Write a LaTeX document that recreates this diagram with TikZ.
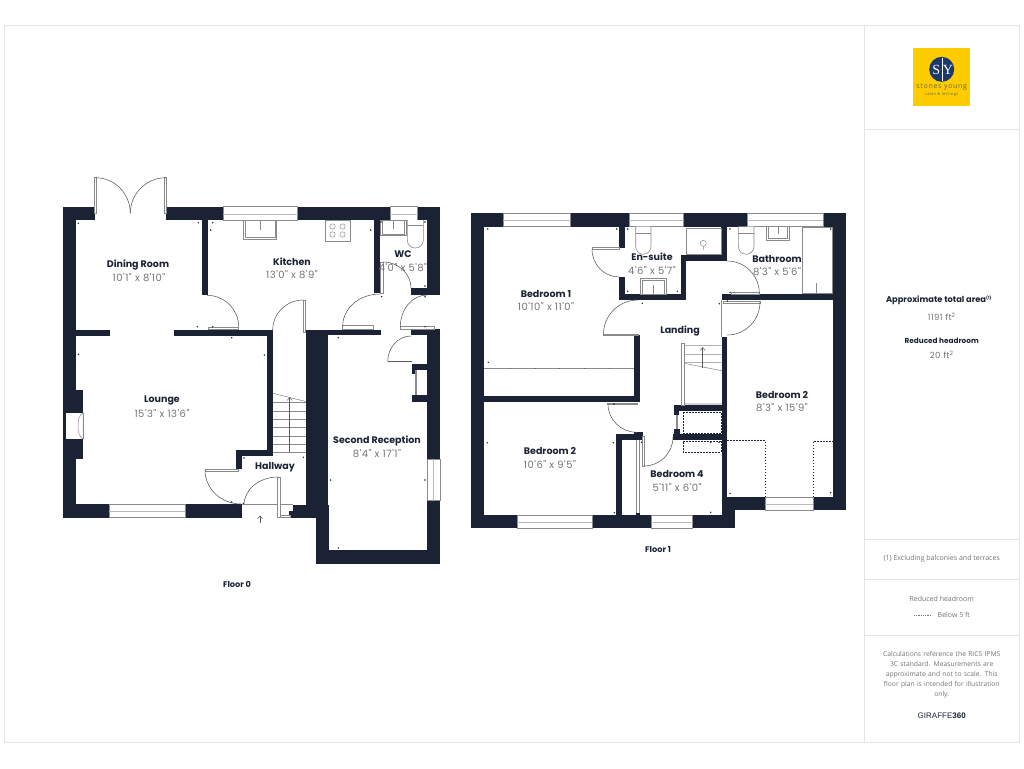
\documentclass[tikz,border=0pt]{standalone}
\usepackage{fontspec}
\usetikzlibrary{calc,arrows.meta}
\newfontfamily\planfont{Poppins}
\newfontfamily\dimfont[LetterSpace=5]{Poppins}
\newfontfamily\notefont{Open Sans}
\newfontfamily\logotextfont[LetterSpace=10]{Open Sans}
\newfontfamily\logofont{Liberation Serif}
\definecolor{wallc}{HTML}{1A2233}
\definecolor{linec}{HTML}{8A8A8A}
\definecolor{doorc}{HTML}{5A5A5A}
\definecolor{dimc}{HTML}{747474}
\definecolor{framec}{HTML}{E4E4E6}
\definecolor{logoy}{HTML}{FFCC00}
\definecolor{logob}{HTML}{1B3A6B}
\definecolor{logot}{HTML}{6E6A35}
\tikzset{
 wall/.style={fill=wallc,draw=none},
 fixture/.style={draw=linec,line width=0.6pt,fill=white},
 doorline/.style={draw=doorc,line width=0.55pt},
 leaf/.style={draw=linec,line width=0.6pt,fill=white},
 low/.style={draw=wallc,line width=0.55pt,dash pattern=on 1.6pt off 1.4pt},
 rname/.style={font=\planfont\bfseries\fontsize{9.5}{11}\selectfont,text=wallc,inner sep=0pt},
 rdim/.style={font=\dimfont\fontsize{10}{11}\selectfont,text=dimc,inner sep=0pt},
 note/.style={font=\notefont\fontsize{7}{10}\selectfont,text=dimc,inner sep=0pt,align=center},
 frameline/.style={draw=framec,line width=0.9pt}
}
\newcommand\wl[4]{\fill[wall] (#1,#2) rectangle (#3,#4);}
\newcommand\winh[4]{\fill[white] (#1,#2) rectangle (#3,#4);
  \draw[linec,line width=0.6pt] (#1,#2) rectangle (#3,#4);
  \draw[linec!60,line width=1.1pt] (#1,{(#2+#4)/2+0.8}) -- (#3,{(#2+#4)/2+0.8});}
\newcommand\winv[4]{\fill[white] (#1,#2) rectangle (#3,#4);
  \draw[linec,line width=0.6pt] (#1,#2) rectangle (#3,#4);
  \draw[linec!60,line width=1.1pt] ({(#1+#3)/2},#2) -- ({(#1+#3)/2},#4);}
\newcommand\qa[6]{\draw[doorline] (#3,#4) .. controls ($(#3,#4)+0.5523*(#5,#6)-0.5523*(#1,#2)$) and ($(#5,#6)+0.5523*(#3,#4)-0.5523*(#1,#2)$) .. (#5,#6);}
\newcommand\tk[2]{\fill[wallc] (#1,#2) circle (0.8);}
\begin{document}
\begin{tikzpicture}[x=1pt,y=-1pt]
\useasboundingbox (0,0) rectangle (1024,768);
\fill[white] (0,0) rectangle (1024,768);
% frame
\draw[frameline] (4,25) rectangle (1019.3,742.3);
\draw[frameline] (864,25) -- (864,742.3);
\draw[frameline] (864,129.3) -- (1019.3,129.3);
\draw[frameline] (864,539.5) -- (1019.3,539.5);
\draw[frameline] (864,579.3) -- (1019.3,579.3);
\draw[frameline] (864,635) -- (1019.3,635);
% ---------- Floor 0 walls
\wl{62.7}{206.7}{76}{517.7}
\wl{62.7}{206.7}{95}{220}
\wl{166}{206.7}{223}{220}
\wl{297.7}{206.7}{390}{220}
\wl{417.7}{206.7}{440.3}{220}
\wl{427.3}{206.7}{440.3}{295}
\wl{373.5}{220}{379.7}{293}
\wl{373.5}{288}{381.5}{293}
\wl{411.3}{288}{427.3}{295}
\wl{202.3}{220}{208}{295.3}
\wl{76}{329.7}{110}{335.7}
\wl{174.3}{329.7}{273}{335.7}
\wl{267}{335}{273}{456}
\wl{235.7}{450}{273}{456}
\wl{235.7}{450}{241.7}{469.3}
\wl{76}{389.7}{83}{459}
\wl{76}{504.4}{109}{517.7}
\wl{185.3}{504.4}{241.7}{517.7}
\wl{305.7}{330}{327.7}{517.7}
\wl{293}{505}{306}{517.7}
\wl{289.3}{511}{296}{517.7}
\wl{315.7}{505}{329.3}{564}
\wl{315.7}{550.3}{440.3}{564}
\wl{327}{329.5}{380.7}{335}
\wl{411.3}{329.5}{427.3}{335}
\wl{427.3}{328.5}{440.3}{459.3}
\wl{427.3}{500.7}{440.3}{564}
\wl{412.3}{363.5}{427.3}{369.5}
\wl{412.3}{363.5}{417}{374}
\wl{412}{395}{427.3}{401.7}
% fireplace
\fill[white] (66,412.7) rectangle (83,439);
\draw[linec,line width=0.5pt] (83,412.7) .. controls (79,416) and (78,420) .. (78,426) .. controls (78,432) and (79,436) .. (83,439) -- cycle;
\draw[linec,line width=0.5pt] (83,412.7) -- (83,439);
% windows floor 0
\winh{223}{206.7}{297.7}{220}
\winh{390}{206.7}{417.7}{220}
\winh{109}{504.4}{185.3}{517.7}
\winv{427.3}{459.3}{440.3}{500.7}
\draw[linec,line width=0.6pt] (415,370) -- (415,395) (416.6,370) -- (416.6,395);
% french doors
\draw[leaf] (94.7,177.7) rectangle (96.3,213.7);
\draw[leaf] (164.7,177.7) rectangle (166.7,213.7);
\qa{95.5}{213.3}{95.5}{177.7}{130.3}{213.3}
\qa{166}{213.3}{166}{177.7}{130.3}{213.3}
% inner doors floor 0
\draw[leaf] (208,326.9) rectangle (238.7,329.7);
\qa{207}{327}{207}{295.3}{238.7}{327}
\draw[leaf] (303.3,300) rectangle (305.5,332);
\qa{303.3}{330}{303.3}{300}{272.7}{330}
\draw[leaf] (342.7,325.3) rectangle (373.5,329.5);
\qa{380}{326}{342.7}{326}{380}{294}
\draw[leaf] (380.7,262) rectangle (383,293);
\qa{383}{288}{383}{262}{411}{288}
\draw[leaf] (400.3,326.3) rectangle (434,329);
\qa{427}{327}{400.3}{327}{427}{295}
\draw[doorline] (387.7,361.7) -- (412,361.7);
\qa{411}{361.7}{387.7}{361.7}{411}{336}
\draw[leaf] (205,469.3) rectangle (238,471);
\qa{241}{470}{205}{470}{241}{504}
\draw[leaf] (277.7,477) rectangle (280,517);
\draw[leaf] (280,515) rectangle (290,517.5);
\qa{278}{505}{278}{477}{244}{505}
\draw[linec,line width=0.6pt] (242,504.6) -- (278,504.6) (280,504.6) -- (293,504.6);
\draw[doorc,line width=0.5pt,-{Straight Barb[length=3pt,width=5pt]}] (260,523) -- (260,515.5);
% stairs floor 0
\draw[linec,line width=0.55pt] (273,393.3) -- (305.7,401.5);
\foreach \yy in {402.7,411,419,427.3,436,444.3,452.3}{\draw[linec,line width=0.55pt] (273,\yy) -- (305.7,\yy);}
\draw[doorc,line width=0.5pt,-{Straight Barb[length=3pt,width=5pt]}] (289.7,452.3) -- (289.7,397);
% fixtures floor 0
\draw[fixture] (243.3,220) rectangle (276.7,239.3);
\draw[linec,line width=0.5pt] (245,220) -- (245,237.5) -- (275,237.5) -- (275,220) (260,220) -- (260,230);
\draw[fixture] (325,220) rectangle (350,241);
\foreach \cx in {332.5,342.5}{\foreach \cy in {226.5,234.5}{\draw[linec,line width=0.5pt] (\cx,\cy) circle (2.7);}}
\draw[fixture] (380,220) rectangle (406,235.7);
\draw[linec,line width=0.5pt] (382,220) -- (382,234) -- (404,234) -- (404,220) (393,220) -- (393,229);
\draw[fixture] (407.3,220) -- (407.3,240) .. controls (407.3,245) and (411,248) .. (415.3,248) .. controls (419.6,248) and (423.3,245) .. (423.3,240) -- (423.3,220);
\draw[linec,line width=0.5pt] (407.3,225.5) -- (423.3,225.5);
% ---------- Floor 1 walls
\wl{471}{213.3}{484.3}{528.3}
\wl{471}{213.3}{503.3}{226.7}
\wl{570}{213.3}{629.3}{226.7}
\wl{683.7}{213.3}{747}{226.7}
\wl{823.3}{213.3}{846}{226.7}
\wl{833}{213.3}{846}{510}
\wl{727.3}{497.3}{765.3}{510}
\wl{813}{497.3}{846}{510}
\wl{471}{515}{517.3}{528.3}
\wl{592}{515}{651}{528.3}
\wl{692.7}{515}{735}{528.3}
\wl{727}{497.3}{735}{528.3}
\wl{721.7}{336.7}{727.3}{515}
\wl{721.7}{294}{833}{300}
\wl{721.3}{226}{727.3}{261}
\wl{681}{255}{727.3}{261}
\wl{681}{255}{685.7}{300}
\wl{619}{294}{685.7}{300}
\wl{619}{226}{625.3}{248}
\wl{619}{277}{625.3}{300}
\wl{634.3}{335}{640}{402}
\wl{484}{396}{640}{402}
\wl{616}{434.3}{622}{515}
\wl{616}{434.3}{643.3}{440}
\wl{634}{432}{642.7}{440}
\wl{673.3}{434.3}{721.7}{440}
\wl{674}{405.3}{721.7}{410.7}
\wl{674}{405.3}{679}{414.7}
\wl{674}{429}{679.5}{440}
\wl{636}{513}{640}{515}
% windows floor 1
\winh{503.3}{213.3}{570}{226.7}
\winh{629.3}{213.3}{683.7}{226.7}
\winh{747}{213.3}{823.3}{226.7}
\winh{765.3}{497.3}{813}{510}
\winh{517.3}{515}{592}{528.3}
\winh{651}{515}{692.7}{528.3}
% thin partitions floor 1
\draw[linec,line width=0.7pt] (484.3,368.3) -- (634.3,368.3);
\foreach \xx in {510,535,559,584,609}{\fill[doorc] (\xx,367.6) rectangle (\xx+0.7,369);}
\draw[linec,line width=0.7pt] (636.7,440) -- (636.7,513) (639.3,440) -- (639.3,513);
\draw[linec,line width=0.7pt] (676.4,414.7) -- (676.4,429) (677.6,414.7) -- (677.6,429);
\draw[linec,line width=0.6pt] (721.7,300) -- (721.7,336.7);
% doors floor 1
\draw[leaf] (592,247.3) rectangle (619,249);
\qa{619}{249}{592}{249}{619}{277}
\draw[leaf] (603.3,334) rectangle (638,335.5);
\qa{638}{334}{603.5}{334}{638}{300}
\draw[leaf] (607.7,403) rectangle (637.7,404.4);
\qa{637}{404}{608}{404}{637}{432.3}
\draw[leaf] (642.7,436.7) rectangle (644,466);
\qa{644}{437}{644}{466}{673}{437}
\draw[leaf] (731,292.3) rectangle (759.3,293.9);
\qa{727.3}{293.3}{727.3}{261}{759.3}{293.3}
\draw[leaf] (723,301) rectangle (760,303);
\qa{727.3}{302}{760}{302}{727.3}{335}
% stairs floor 1
\draw[leaf] (681.7,343.3) rectangle (684,405.3);
\draw[linec,line width=0.55pt] (684,345.7) -- (721.7,345.7) (684,354.7) -- (721.7,354.7) (684,362.3) -- (721.7,362.3) (684,363.3) -- (721.7,370.7) (684,404) -- (721.7,404);
\draw[doorc,line width=0.5pt,-{Straight Barb[length=3pt,width=5pt]}] (702.7,368) -- (702.7,347);
% reduced headroom
\draw[low] (683.3,412.3) rectangle (721,433.7);
\draw[low] (721,441) -- (683.3,441) -- (683.3,452.3) -- (721,452.3) -- cycle;
\draw[low] (727.3,440.3) -- (765,440.3) -- (765,497.3);
\draw[low] (813.3,497.3) -- (813.3,441) -- (833,441);
% fixtures floor 1
\draw[fixture] (635.7,226.7) -- (635.7,246) .. controls (635.7,251) and (639,254.3) .. (643.3,254.3) .. controls (647.6,254.3) and (651,251) .. (651,246) -- (651,226.7);
\draw[linec,line width=0.5pt] (635.7,233) -- (651,233);
\draw[fixture] (640.7,278) rectangle (666,294);
\draw[linec,line width=0.5pt] (642.5,294) -- (642.5,280) -- (664.2,280) -- (664.2,294) (653.3,285) -- (653.3,294);
\draw[fixture] (686,228) rectangle (721,254.3);
\draw[linec,line width=0.5pt] (703.3,243.3) circle (3) (703.3,246.3) -- (703.3,250);
\draw[fixture] (738.3,226.7) -- (738.3,246) .. controls (738.3,251) and (741.8,254.3) .. (746.1,254.3) .. controls (750.4,254.3) and (754,251) .. (754,246) -- (754,226.7);
\draw[linec,line width=0.5pt] (738.3,233) -- (754,233);
\draw[fixture] (766.7,226.7) rectangle (789.3,240.3);
\draw[linec,line width=0.5pt] (768.5,227) -- (768.5,238.5) -- (787.5,238.5) -- (787.5,227) (778,227) -- (778,234);
\draw[fixture] (802,227.7) rectangle (832.7,293.3);
\draw[linec,line width=0.5pt] (816.3,283.3) -- (816.3,293.3);
% tick marks
\foreach \p/\q in {78.3/223.3,198.3/222.7,212.7/222.7,210.7/230,197.3/326.7,212.7/326.7,231.7/337.7,78.3/354.3,370.7/230,381/222,425/222,425/286,381.7/296.7,425/296.7,425/326.7,338.3/337.7,264.3/355,244/458,231.7/502,243.3/503.3,303.3/457.3,330.7/480,425/480,338.3/548,487.7/229,616.7/229,627.7/229,627.7/291.3,642.3/303.3,488.3/362.3,730/229,830.7/229,677.3/291.3,719.3/303.7,730/292.3,727.3/301,487.3/442.7,613.3/442.7,614.3/512.7,614/404,641.7/442.3,710.7/442.3,719/442.3,730/493.3,830.7/492.7,710.7/512.3}{\tk{\p}{\q}}
% room labels
\node[rname] (ndining) at (138,264.5) {Dining Room};
\node[rdim] (ddining) at (139,278) {10'1" x 8'10"};
\node[rname] (nkitchen) at (292,262) {Kitchen};
\node[rdim] (dkitchen) at (292,275) {13'0" x 8'9"};
\node[rname] (nwc) at (403,254) {WC};
\node[rdim] (dwc) at (403,268) {4'0" x 5'8"};
\node[rname] (nlounge) at (162,400.5) {Lounge};
\node[rdim] (dlounge) at (162,413.5) {15'3" x 13'6"};
\node[rname] (nhall) at (275,467.5) {Hallway};
\node[rname] (nsecond) at (377,441) {Second Reception};
\node[rdim] (dsecond) at (377,454) {8'4" x 17'1"};
\node[rname] (nbed1) at (546,294) {Bedroom 1};
\node[rdim] (dbed1) at (546,307) {10'10" x 11'0"};
\node[rname] (nen) at (652,257) {En-suite};
\node[rdim] (den) at (652,271) {4'6" x 5'7"};
\node[rname] (nbath) at (777,259) {Bathroom};
\node[rdim] (dbath) at (777,272) {8'3" x 5'6"};
\node[rname] (nland) at (680,331) {Landing};
\node[rname] (nbed2a) at (782,395) {Bedroom 2};
\node[rdim] (dbed2a) at (782,408) {8'3" x 15'9"};
\node[rname] (nbed2b) at (550,451) {Bedroom 2};
\node[rdim] (dbed2b) at (550,465) {10'6" x 9'5"};
\node[rname] (nbed4) at (677,474) {Bedroom 4};
\node[rdim] (dbed4) at (677,488) {5'11" x 6'0"};
\node[rname,font=\planfont\bfseries\fontsize{8.2}{9}\selectfont] (f0) at (237,584.5) {Floor 0};
\node[rname,font=\planfont\bfseries\fontsize{8.2}{9}\selectfont] (f1) at (658,549.5) {Floor 1};
% logo
\fill[logoy] (913,48.3) rectangle (970,105.7);
\fill[logob] (941.7,69.3) circle (12.5);
\draw[white,line width=0.3pt] (941.7,58) -- (941.7,80.5);
\node[font=\logofont\fontsize{14}{14}\selectfont,text=white,inner sep=0pt] (logos) at (936.2,69.5) {S};
\node[font=\logofont\fontsize{14}{14}\selectfont,text=white,inner sep=0pt] (logoy) at (947.8,69.5) {Y};
\node[font=\logotextfont\fontsize{7}{8}\selectfont,text=logot,inner sep=0pt] (logoa) at (941.7,87.5) {stones young};
\node[font=\logotextfont\fontsize{4}{5}\selectfont,text=logot,inner sep=0pt] (logob2) at (941.7,94.5) {sales \& lettings};
% side panel
\node[rname,font=\planfont\bfseries\fontsize{8.3}{9}\selectfont] (area) at (939,300) {Approximate total area\textsuperscript{\fontsize{4}{4}\selectfont(1)}};
\node[rdim,font=\dimfont\fontsize{8.5}{9}\selectfont] (areav) at (941.7,317) {1191 ft\textsuperscript{2}};
\node[rname,font=\planfont\bfseries\fontsize{7.3}{8}\selectfont] (red) at (941.7,340.5) {Reduced headroom};
\node[rdim,font=\dimfont\fontsize{8.5}{9}\selectfont] (redv) at (941.7,355) {20 ft\textsuperscript{2}};
\node[note] (excl) at (941.7,559) {(1) Excluding balconies and terraces};
\node[note] (rh) at (941.7,599) {Reduced headroom};
\node[note,anchor=west] (below) at (937.5,615) {Below 5 ft};
\coordinate (dashA) at (914,615);
\coordinate (dashB) at (932,615);
\draw[draw=dimc,line width=0.4pt,dash pattern=on 1pt off 0.8pt] (dashA) -- (dashB);
\node[note,text width=130pt,font=\notefont\fontsize{6.75}{10}\selectfont] (calc) at (941.7,675) {Calculations reference the RICS IPMS\\3C standard. Measurements are\\approximate and not to scale. This\\floor plan is intended for illustration\\only.};
\node[font=\fontspec{Liberation Sans}\fontsize{8}{9}\selectfont,text=wallc,inner sep=0pt] (gir) at (941.7,716) {GIRAFFE\textbf{360}};
\end{tikzpicture}
\end{document}
